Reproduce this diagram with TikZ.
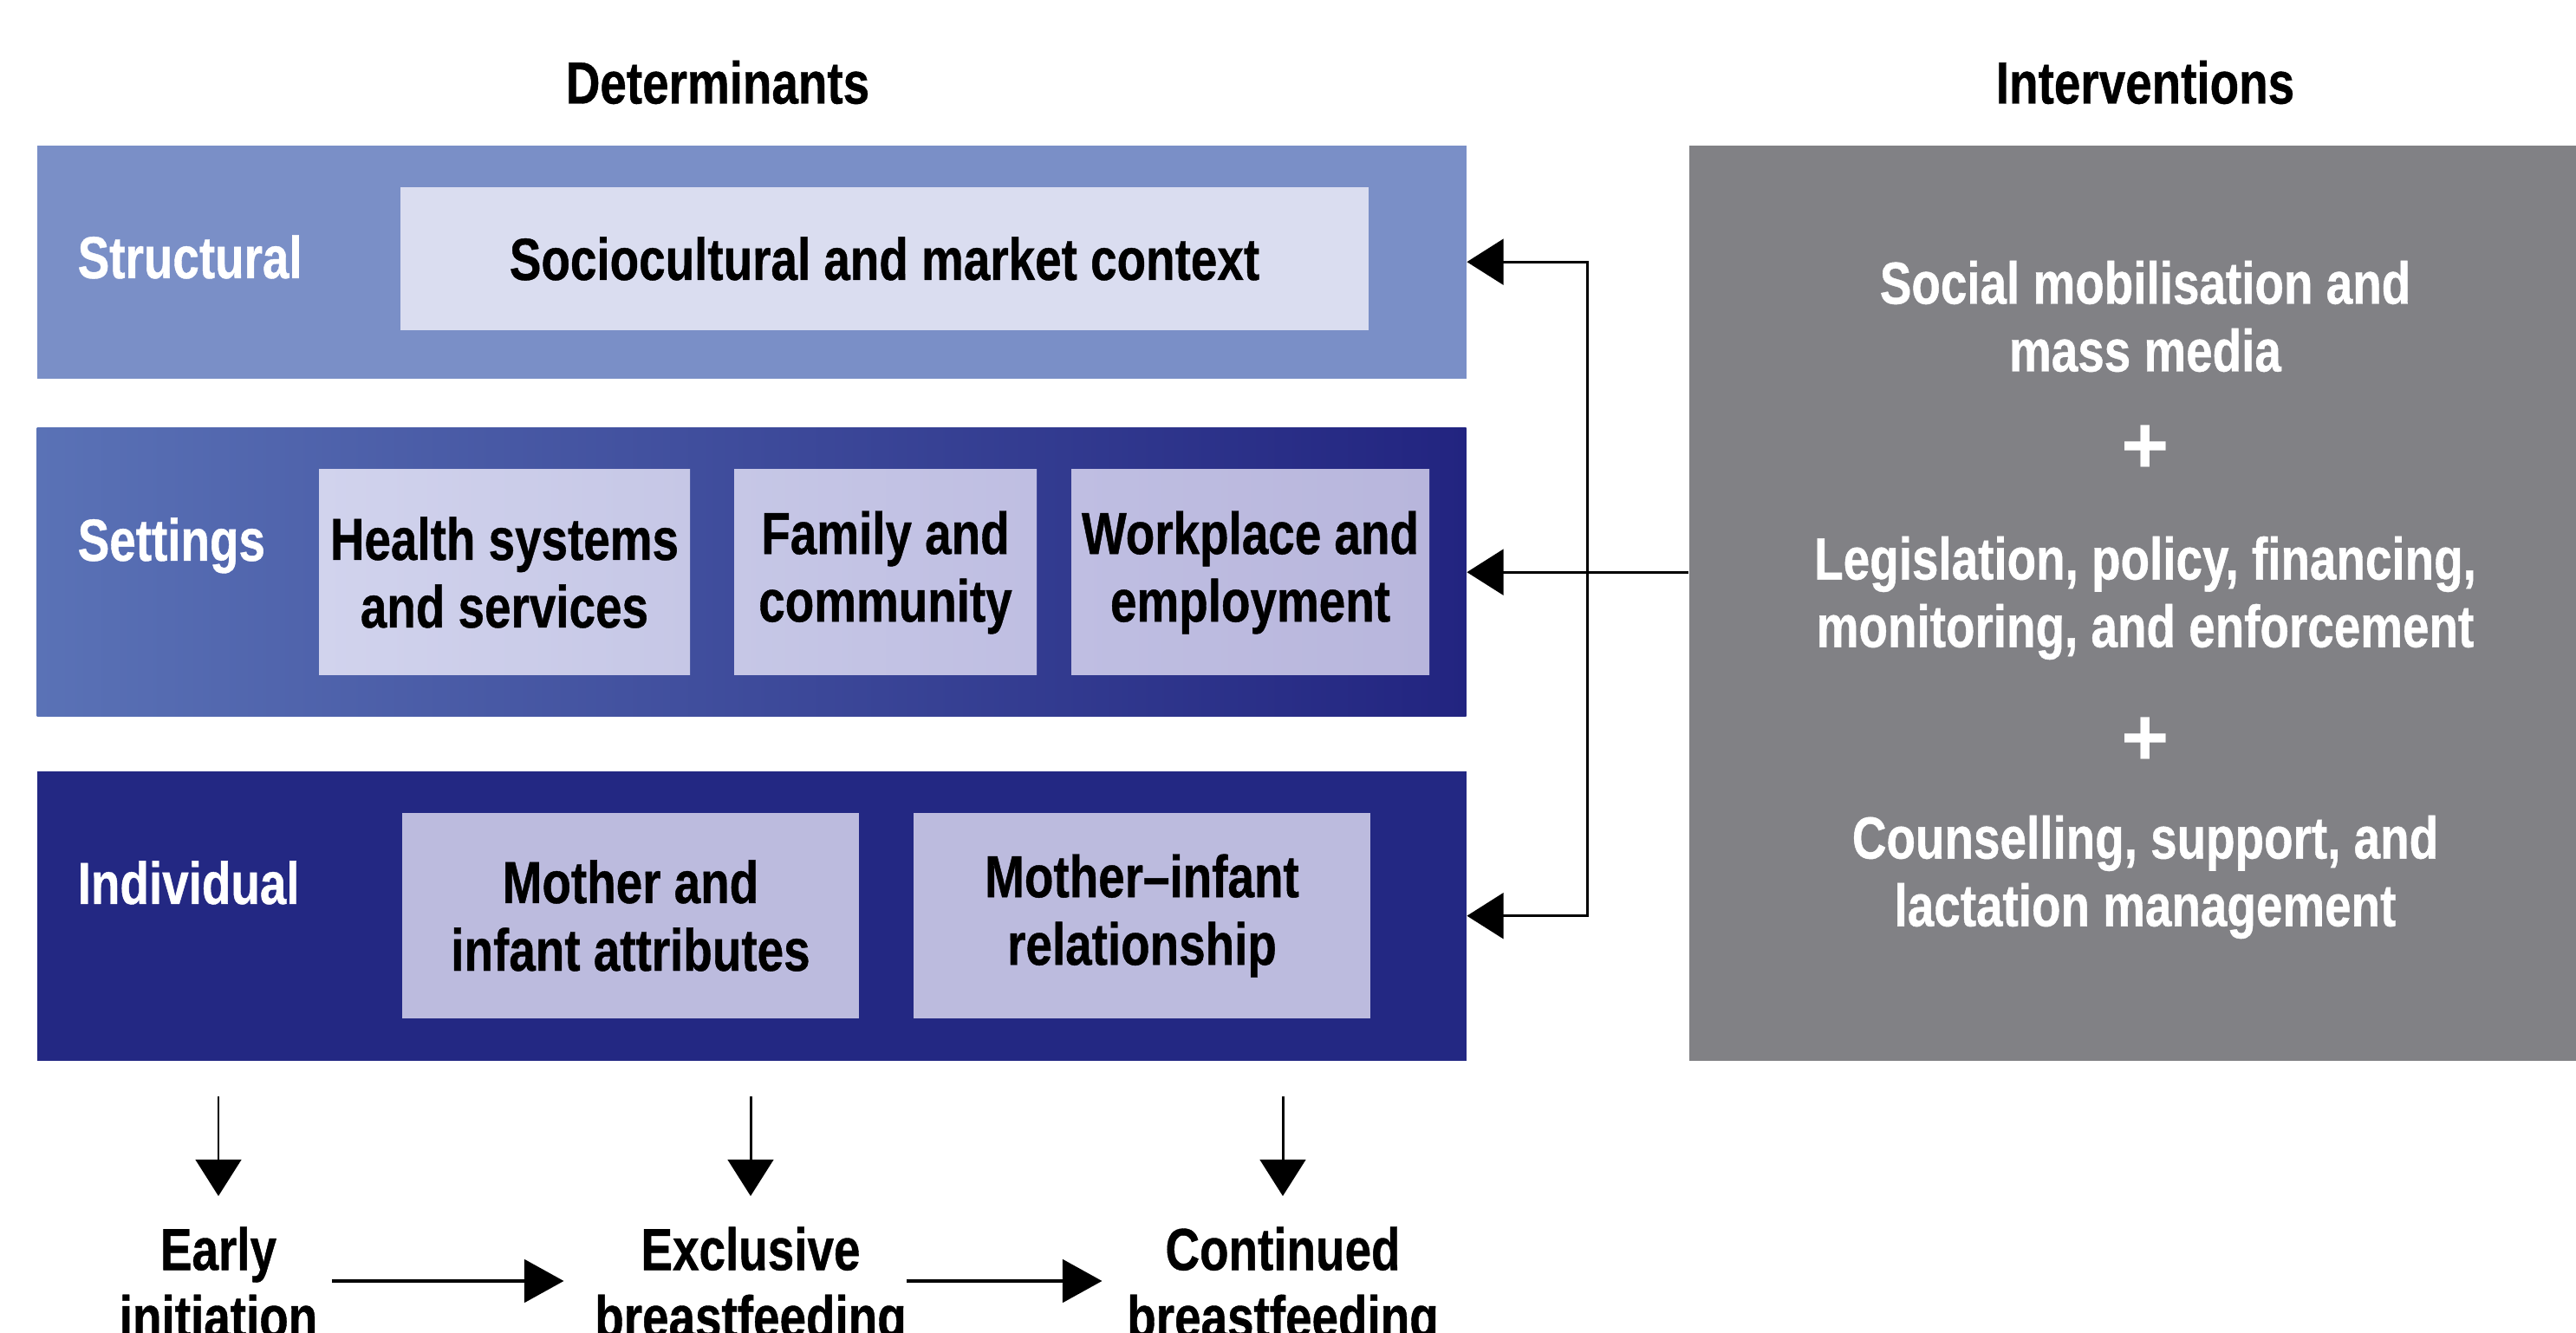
\documentclass[tikz,border=0pt]{standalone}
\usepackage{fontspec}
\setmainfont{Liberation Sans}[FakeStretch=0.8,BoldFeatures={FakeBold=0.6}]
\newfontfamily\plusfont{Liberation Sans}
\usetikzlibrary{arrows.meta}
\definecolor{structblue}{RGB}{122,143,199}
\definecolor{structpale}{RGB}{218,221,240}
\definecolor{setleft}{RGB}{90,114,182}
\definecolor{setright}{RGB}{34,36,128}
\definecolor{paleA}{RGB}{209,211,237}
\definecolor{paleB}{RGB}{198,199,230}
\definecolor{paleC}{RGB}{191,190,226}
\definecolor{paleD}{RGB}{184,182,220}
\definecolor{indblue}{RGB}{35,40,131}
\definecolor{indpale}{RGB}{188,187,222}
\definecolor{intgrey}{RGB}{129,129,133}
\begin{document}
\begin{tikzpicture}[font=\fontsize{19.5}{22.2}\selectfont\bfseries,
	band/.style={anchor=north west,minimum width=16.49cm,inner sep=0},
	cell/.style={align=center,inner sep=0},
	tag/.style={anchor=base west,text=white,inner sep=0},
	plus/.style={text=white,inner sep=0,font=\plusfont\fontsize{27}{27}\selectfont\bfseries},
	feed/.style={line width=0.85pt,-{Triangle[length=12pt,width=15pt]}},
	flow/.style={line width=1.4pt,-{Triangle[length=13pt,width=14pt]}}]
	\useasboundingbox (0,0) rectangle (29.72,15.38);
	\clip (0,0) rectangle (29.72,15.38);
	% headings
	\node (det) at (8.28,14.43) {Determinants};
	\node (int) at (24.75,14.43) {Interventions};
	% determinants
	\node[band,fill=structblue,minimum height=2.69cm] (structural) at (0.42,13.71) {};
	\node[band,left color=setleft,right color=setright,minimum height=3.33cm] (settings) at (0.42,10.45) {};
	\node[band,fill=indblue,minimum height=3.34cm] (individual) at (0.42,6.49) {};
	\node[tag] (tstruct) at (0.89,12.17) {Structural};
	\node[tag] (tset) at (0.89,8.91) {Settings};
	\node[tag] (tind) at (0.89,4.95) {Individual};
	\node[cell,fill=structpale,minimum width=11.17cm,minimum height=1.65cm] (context) at (10.205,12.395) {Sociocultural and market context};
	\node[cell,left color=paleA,right color=paleB,minimum width=4.28cm,minimum height=2.37cm] (health) at (5.82,8.775) {Health systems\\and services};
	\node[cell,left color=paleB,right color=paleC,minimum width=3.49cm,minimum height=2.37cm] (family) at (10.215,8.775) {Family and\\community};
	\node[cell,left color=paleC,right color=paleD,minimum width=4.13cm,minimum height=2.37cm] (work) at (14.425,8.775) {Workplace and\\employment};
	\node[cell,fill=indpale,minimum width=5.27cm,minimum height=2.37cm] (attrib) at (7.275,4.815) {Mother and\\infant attributes};
	\node[cell,fill=indpale,minimum width=5.27cm,minimum height=2.37cm] (relation) at (13.175,4.815) {Mother--infant\\relationship};
	% interventions
	\node[fill=intgrey,anchor=north west,minimum width=10.24cm,minimum height=10.56cm,inner sep=0] (grey) at (19.48,13.71) {};
	\node[cell,text=white] (media) at (24.75,11.73) {Social mobilisation and\\mass media};
	\node[plus] (plusA) at (24.75,10.19) {+};
	\node[cell,text=white] (law) at (24.75,8.48) {Legislation, policy, financing,\\monitoring, and enforcement};
	\node[plus] (plusB) at (24.75,6.82) {+};
	\node[cell,text=white] (couns) at (24.75,5.26) {Counselling, support, and\\lactation management};
	% feedback arrows
	\coordinate (bus) at (18.31,8.78);
	\draw[feed] (settings.east -| bus) -- (structural.east -| bus) -- (structural.east);
	\draw[feed] (settings.east -| bus) -- (individual.east -| bus) -- (individual.east);
	\draw[feed] (grey.west |- settings.east) -- (settings.east);
	% outcomes
	\node[cell,anchor=north] (early) at (2.52,1.23) {Early\\initiation};
	\node[cell,anchor=north] (exclusive) at (8.66,1.23) {Exclusive\\breastfeeding};
	\node[cell,anchor=north] (continued) at (14.80,1.23) {Continued\\breastfeeding};
	\foreach \out in {early,exclusive,continued}
		\draw[feed,shorten <=0.41cm,shorten >=0.35cm] (individual.south -| \out) -- (\out.north);
	\coordinate (mid) at (0,0.60);
	\draw[flow,shorten <=0.16cm,shorten >=0.35cm] (early.east |- mid) -- (exclusive.west |- mid);
	\draw[flow,shorten >=0.28cm] (exclusive.east |- mid) -- (continued.west |- mid);
\end{tikzpicture}
\end{document}
